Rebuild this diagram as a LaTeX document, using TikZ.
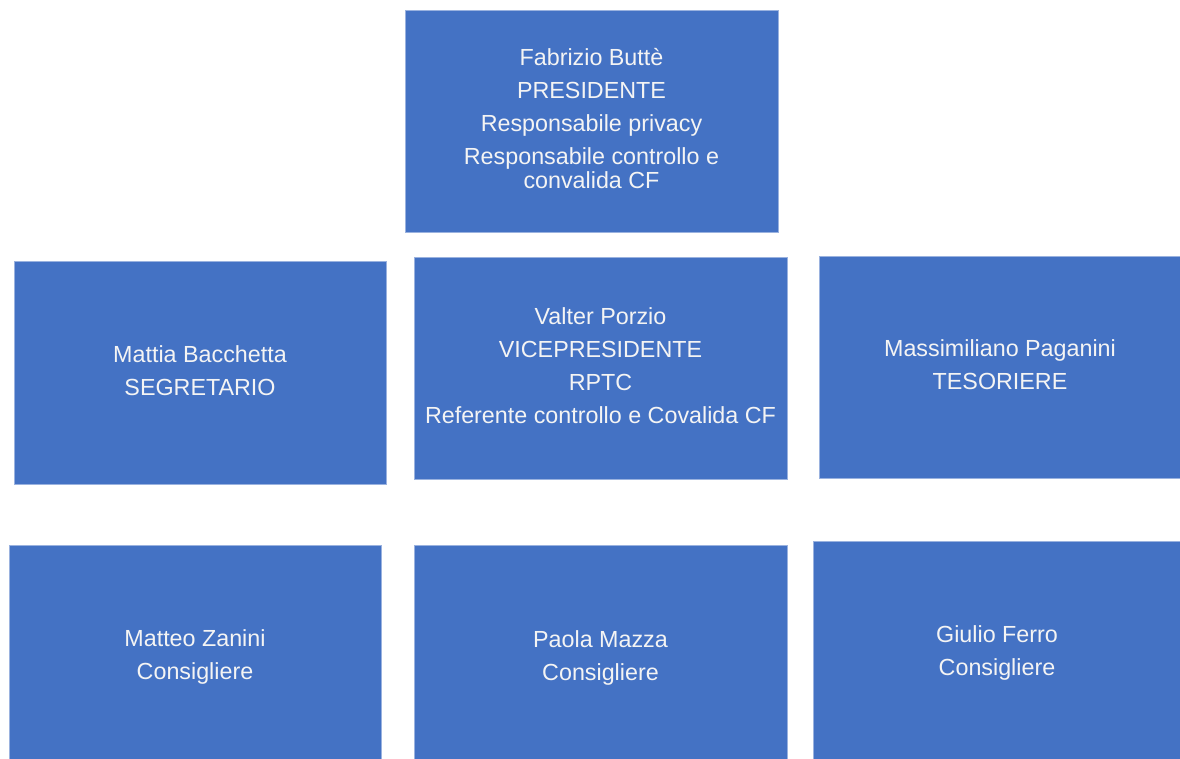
\documentclass[tikz,border=0pt]{standalone}
\usepackage{fontspec}
\setmainfont{Liberation Sans}
\definecolor{boxblue}{HTML}{4472C4}
\definecolor{boxedge}{HTML}{9AB2DF}
\definecolor{boxtext}{HTML}{F4F4F4}
\begin{document}
\begin{tikzpicture}[x=1pt,y=-1pt,
  orgbox/.style={rectangle, fill=boxblue, draw=boxedge, line width=0.8pt,
    inner sep=0pt},
  orgtext/.style={inner sep=0pt, align=center, text=boxtext,
    font=\fontsize{23.3pt}{24pt}\selectfont}]
\useasboundingbox (0,0) rectangle (1180,758);
\fill[white] (0,0) rectangle (1180,758);
\begin{scope}
\clip (0,0) rectangle (1180,758);
\node[orgbox, minimum width=373pt, minimum height=222pt] (pres) at (591.5,121.5) {};
\node[orgbox, minimum width=372pt, minimum height=223pt] (segr) at (200,373) {};
\node[orgbox, minimum width=373pt, minimum height=222pt] (vice) at (600.5,368) {};
\node[orgbox, minimum width=362pt, minimum height=222pt] (tes) at (1000,367) {};
\node[orgbox, minimum width=372pt, minimum height=215pt] (zan) at (195,652.5) {};
\node[orgbox, minimum width=373pt, minimum height=215pt] (maz) at (600.5,652.5) {};
\node[orgbox, minimum width=368pt, minimum height=219pt] (fer) at (997,650.5) {};
\end{scope}
\node[orgtext] (presT) at ([yshift=3pt]pres.center)
  {Fabrizio Buttè\\[9pt]PRESIDENTE\\[9pt]Responsabile privacy\\[9pt]Responsabile controllo e\\convalida CF};
\node[orgtext] (segrT) at ([yshift=2pt]segr.center) {Mattia Bacchetta\\[9pt]SEGRETARIO};
\node[orgtext] (viceT) at ([yshift=2pt]vice.center)
  {Valter Porzio\\[9pt]VICEPRESIDENTE\\[9pt]RPTC\\[9pt]Referente controllo e Covalida CF};
\node[orgtext] (tesT) at ([yshift=2pt]tes.center) {Massimiliano Paganini\\[9pt]TESORIERE};
\node[orgtext] (zanT) at ([yshift=-4pt]zan.center) {Matteo Zanini\\[9pt]Consigliere};
\node[orgtext] (mazT) at ([yshift=-5pt]maz.center) {Paola Mazza\\[9pt]Consigliere};
\node[orgtext] (ferT) at ([yshift=-2pt]fer.center) {Giulio Ferro\\[9pt]Consigliere};
\end{tikzpicture}
\end{document}
